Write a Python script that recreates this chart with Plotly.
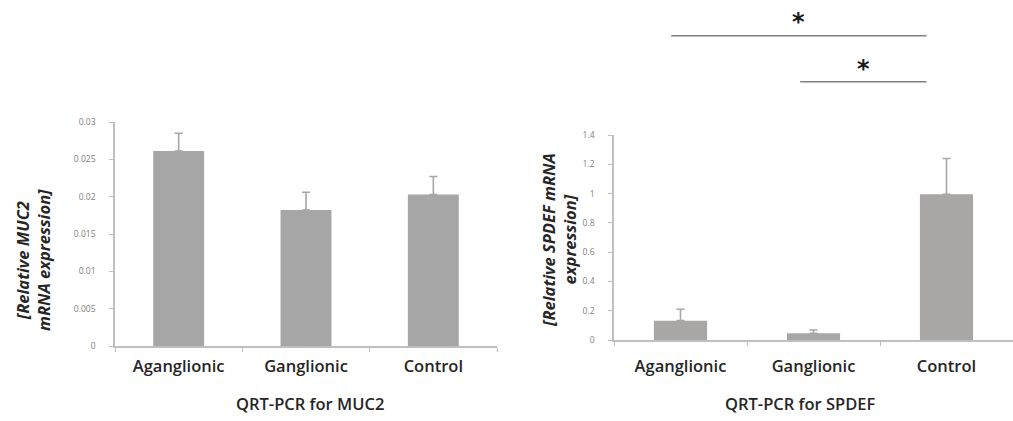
import plotly.graph_objects as go

# ---- data ----
categories = ["Aganglionic", "Ganglionic", "Control"]
muc2_values = [0.0261, 0.0182, 0.0203]
muc2_err = [0.0024, 0.0024, 0.0024]
spdef_values = [0.132, 0.046, 0.995]
spdef_err = [0.078, 0.022, 0.245]
muc2_ticks = [0, 0.005, 0.01, 0.015, 0.02, 0.025, 0.03]
muc2_ticklabels = ["0", "0.005", "0.01", "0.015", "0.02", "0.025", "0.03"]
spdef_ticks = [0, 0.2, 0.4, 0.6, 0.8, 1.0, 1.2, 1.4]
spdef_ticklabels = ["0", "0.2", "0.4", "0.6", "0.8", "1", "1.2", "1.4"]
# significance comparisons on SPDEF chart: (from index, to index, label)
comparisons = [(0, 2, "*"), (1, 2, "*")]

W, H = 1013, 421
bar_color_l = "#a6a6a6"
bar_color_r = "#a9a6a6"
axis_color = "#bfbfbf"
tick_font = dict(family="Open Sans, Liberation Sans, sans-serif", size=8.5, color="#808080")
cat_font = dict(family="Open Sans, sans-serif", size=16.5, color="#262626", weight=600)

fig = go.Figure()
fig.add_trace(go.Bar(
    x=categories, y=muc2_values, marker_color=bar_color_l, marker_line_width=0,
    error_y=dict(type="data", array=muc2_err, arrayminus=[0] * 3, symmetric=False,
                 color=bar_color_l, thickness=1.6, width=4),
    xaxis="x", yaxis="y", showlegend=False))
fig.add_trace(go.Bar(
    x=categories, y=spdef_values, marker_color=bar_color_r, marker_line_width=0,
    error_y=dict(type="data", array=spdef_err, arrayminus=[0] * 3, symmetric=False,
                 color=bar_color_r, thickness=1.6, width=4),
    xaxis="x2", yaxis="y2", showlegend=False))

def px_x(p):
    return p / W

def px_y(p):
    return 1 - p / H

xcommon = dict(showline=True, linecolor=axis_color, linewidth=1.5, ticks="outside",
               tickson="boundaries", ticklen=4, tickcolor=axis_color, tickfont=cat_font,
               showgrid=False, zeroline=False, fixedrange=True, automargin=False)
ycommon = dict(showline=True, linecolor=axis_color, linewidth=1.5, ticks="outside",
               ticklen=4, tickcolor=axis_color, tickfont=tick_font, showgrid=False,
               zeroline=False, fixedrange=True, automargin=False, ticklabelstandoff=12)

fig.update_layout(
    template="none",
    width=W, height=H, margin=dict(l=0, r=0, t=0, b=0, autoexpand=False),
    paper_bgcolor="white", plot_bgcolor="white", bargap=0.6,
    xaxis=dict(domain=[px_x(115), px_x(497)], anchor="y", ticklabelstandoff=4, **xcommon),
    yaxis=dict(domain=[px_y(346), px_y(122)], anchor="x", range=[0, 0.03],
               tickvals=muc2_ticks, ticktext=muc2_ticklabels, **ycommon),
    xaxis2=dict(domain=[px_x(614), px_x(1013)], anchor="y2", ticklabelstandoff=10, **xcommon),
    yaxis2=dict(domain=[px_y(340), px_y(135)], anchor="x2", range=[0, 1.4],
                tickvals=spdef_ticks, ticktext=spdef_ticklabels, **ycommon),
)

title_font = dict(family="Open Sans, sans-serif", size=16.5, color="#262626", weight=600)
ytitle_font = dict(family="Open Sans, sans-serif", size=16.5, color="#262626", weight=700, style="italic")

common_ann = dict(xref="paper", yref="paper", showarrow=False, xanchor="center", yanchor="middle")
annotations = [
    dict(text="QRT-PCR for MUC2", x=px_x(310), y=px_y(403), font=title_font, **common_ann),
    dict(text="QRT-PCR for SPDEF", x=px_x(800), y=px_y(403), font=title_font, **common_ann),
    dict(text="[Relative MUC2<br>mRNA expression]", x=px_x(33), y=px_y(260), textangle=-90,
         font=ytitle_font, **common_ann),
    dict(text="[Relative SPDEF mRNA<br>expression]", x=px_x(559), y=px_y(240), textangle=-90,
         font=ytitle_font, **common_ann),
]

shapes = []
line_levels = [px_y(35.7), px_y(81.7)]
starts_offset = [-0.07, -0.1]
star_shift = [-2, -3]
for (a, b, lab), ly, off, sh in zip(comparisons, line_levels, starts_offset, star_shift):
    x0 = a + off
    x1 = b - 0.15
    shapes.append(dict(type="line", xref="x2", yref="paper", x0=x0, x1=x1, y0=ly, y1=ly,
                       line=dict(color="#808080", width=1.5)))
    annotations.append(dict(text=lab, xref="x2", yref="paper", x=(x0 + x1) / 2, y=ly,
                            xanchor="center", yanchor="bottom", yshift=sh, showarrow=False,
                            font=dict(family="DejaVu Sans", size=24, color="#1a1a1a", weight=700)))

fig.update_layout(annotations=annotations, shapes=shapes)
fig.write_html("out.html")
